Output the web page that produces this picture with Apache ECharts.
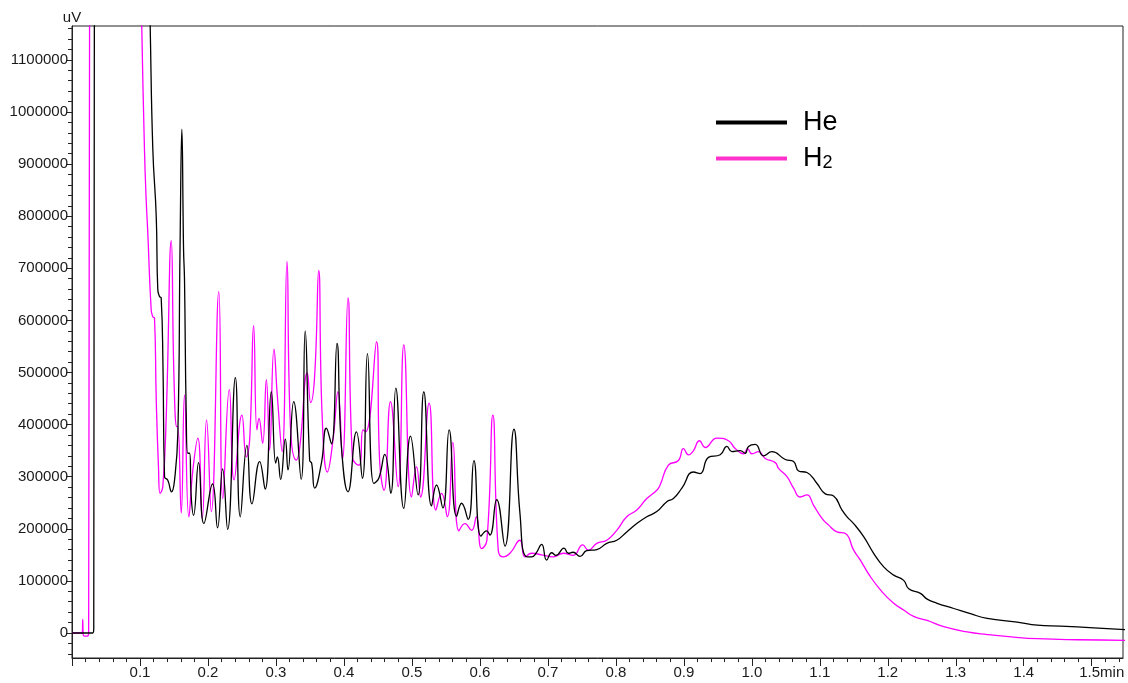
<!DOCTYPE html>
<html lang="en">
<head>
<meta charset="UTF-8">
<title>He / H2 chromatogram</title>
<script src="https://cdn.jsdelivr.net/npm/echarts@6/dist/echarts.min.js"></script>
<style>
  html, body { margin: 0; padding: 0; background: #fff; }
  #main { width: 1128px; height: 683px; }
</style>
</head>
<body>
<div id="main"></div>
<script>
    // axis labels
    var xTickLabels = [0.1, 0.2, 0.3, 0.4, 0.5, 0.6, 0.7, 0.8, 0.9, 1.0, 1.1, 1.2, 1.3, 1.4, 1.5];
    var yTickLabels = [0, 100000, 200000, 300000, 400000, 500000, 600000, 700000, 800000, 900000, 1000000, 1100000];

    // He trace [min, uV] - values above the axis top are clipped
    var heData = [
        [0, 0], [0.0305, 0], [0.0320, 8000], [0.0335, 2000000], [0.105, 2000000], [0.1105, 1450000],
        [0.1150, 1165000], [0.1189, 928000], [0.1239, 800000], [0.1262, 659000], [0.1287, 646000], [0.1312, 643000],
        [0.1338, 514000], [0.1361, 300000], [0.1409, 293000], [0.1464, 271000], [0.1508, 293000], [0.1557, 384000],
        [0.1589, 736000], [0.1616, 967000], [0.1641, 736000], [0.1655, 678000], [0.1680, 422000], [0.1704, 345000],
        [0.1729, 345000], [0.1754, 261000], [0.1788, 226000], [0.1862, 327000], [0.1940, 210000], [0.2068, 286000],
        [0.2141, 202000], [0.2215, 315000], [0.2289, 199000], [0.2403, 490000], [0.2476, 223000], [0.2573, 360000],
        [0.2647, 248000], [0.2760, 329000], [0.2841, 276000], [0.2932, 463000], [0.2996, 326000], [0.3021, 338000],
        [0.3069, 295000], [0.3138, 372000], [0.3177, 313000], [0.3261, 444000], [0.3371, 295000], [0.3430, 580000],
        [0.3496, 331000], [0.3525, 326000], [0.3570, 278000], [0.3669, 326000], [0.3742, 393000], [0.3816, 363000],
        [0.3898, 556000], [0.3963, 358000], [0.4060, 271000], [0.4184, 386000], [0.4272, 297000], [0.4346, 536000],
        [0.4439, 287000], [0.4513, 297000], [0.4601, 343000], [0.4689, 268000], [0.4763, 470000], [0.4881, 239000],
        [0.4979, 378000], [0.5091, 265000], [0.5175, 463000], [0.5289, 244000], [0.5362, 284000], [0.5455, 240000],
        [0.5548, 390000], [0.5657, 224000], [0.5731, 249000], [0.5828, 218000], [0.5912, 331000], [0.6015, 186000],
        [0.6099, 196000], [0.6147, 188000], [0.6247, 256000], [0.6368, 167000], [0.6501, 391000], [0.6589, 230000],
        [0.6677, 147000], [0.6761, 146000], [0.6825, 153000], [0.6909, 170000], [0.6982, 140000], [0.7056, 154000],
        [0.7119, 149000], [0.7237, 163000], [0.7300, 153000], [0.7370, 155000], [0.7473, 147000], [0.7571, 158000],
        [0.7719, 160000], [0.7866, 172000], [0.8013, 178000], [0.8160, 194000], [0.8308, 210000], [0.8455, 223000],
        [0.8602, 233000], [0.8750, 252000], [0.8847, 258000], [0.8971, 278000], [0.9141, 309000], [0.9240, 306000],
        [0.9362, 337000], [0.9535, 342000], [0.9633, 358000], [0.9707, 348000], [0.9829, 350000], [0.9903, 345000],
        [0.9951, 358000], [1.0050, 362000], [1.0172, 340000], [1.0296, 348000], [1.0492, 333000], [1.0614, 329000],
        [1.0688, 311000], [1.0811, 308000], [1.0959, 287000], [1.1081, 267000], [1.1203, 263000], [1.1327, 236000],
        [1.1401, 223000], [1.1498, 210000], [1.1645, 185000], [1.1792, 153000], [1.1940, 127000], [1.2087, 111000],
        [1.2234, 101000], [1.2308, 85000], [1.2480, 76000], [1.2579, 65000], [1.2726, 57000], [1.2971, 47000],
        [1.3216, 37000], [1.3462, 28000], [1.3904, 21000], [1.4199, 15000], [1.4542, 13000], [1.5032, 10000],
        [1.5499, 6500]
    ];

    // H2 trace [min, uV]
    var h2Data = [
        [0, 0], [0.0150, 0], [0.0158, 26000], [0.0164, -3000], [0.0185, -6000], [0.0225, -6000], [0.0245, 0],
        [0.0268, 2000000], [0.094, 2000000], [0.0985, 1450000], [0.1026, 1165000], [0.1066, 928000], [0.1091, 832000],
        [0.1115, 768000], [0.1165, 620000], [0.1189, 607000], [0.1214, 604000], [0.1239, 450000], [0.1272, 319000],
        [0.1297, 268000], [0.1336, 281000], [0.1386, 415000], [0.1460, 753000], [0.1501, 486000], [0.1542, 396000],
        [0.1557, 396000], [0.1607, 230000], [0.1655, 457000], [0.1719, 223000], [0.1778, 313000], [0.1851, 374000],
        [0.1916, 220000], [0.1979, 409000], [0.2049, 233000], [0.2159, 655000], [0.2219, 258000], [0.2314, 467000],
        [0.2384, 294000], [0.2499, 418000], [0.2564, 338000], [0.2613, 370000], [0.2672, 590000], [0.2720, 390000],
        [0.2750, 412000], [0.2804, 364000], [0.2859, 486000], [0.2907, 351000], [0.2971, 545000], [0.3021, 454000],
        [0.3091, 348000], [0.3162, 713000], [0.3212, 399000], [0.3300, 332000], [0.3349, 355000], [0.3462, 499000],
        [0.3511, 442000], [0.3570, 495000], [0.3629, 696000], [0.3680, 415000], [0.3757, 309000], [0.3839, 370000],
        [0.3913, 463000], [0.3978, 334000], [0.4060, 643000], [0.4125, 337000], [0.4222, 322000], [0.4281, 390000],
        [0.4321, 386000], [0.4479, 559000], [0.4527, 326000], [0.4591, 274000], [0.4685, 444000], [0.4797, 281000],
        [0.4881, 553000], [0.4994, 261000], [0.5068, 319000], [0.5127, 261000], [0.5253, 441000], [0.5352, 236000],
        [0.5436, 268000], [0.5521, 223000], [0.5602, 366000], [0.5691, 196000], [0.5779, 210000], [0.5878, 197000],
        [0.5948, 223000], [0.6025, 162000], [0.6103, 178000], [0.6191, 418000], [0.6270, 159000], [0.6343, 146000],
        [0.6442, 153000], [0.6589, 178000], [0.6663, 146000], [0.6761, 153000], [0.6909, 150000], [0.7080, 146000],
        [0.7227, 153000], [0.7374, 149000], [0.7513, 169000], [0.7595, 159000], [0.7719, 172000], [0.7866, 178000],
        [0.8013, 197000], [0.8160, 223000], [0.8308, 236000], [0.8455, 258000], [0.8602, 274000], [0.8651, 284000],
        [0.8773, 322000], [0.8920, 331000], [0.8994, 354000], [0.9068, 342000], [0.9137, 349000], [0.9230, 369000],
        [0.9314, 356000], [0.9486, 374000], [0.9657, 369000], [0.9755, 354000], [0.9878, 344000], [0.9937, 354000],
        [1.0001, 344000], [1.0099, 348000], [1.0197, 335000], [1.0345, 327000], [1.0393, 316000], [1.0517, 300000],
        [1.0614, 278000], [1.0713, 261000], [1.0811, 265000], [1.0909, 245000], [1.1032, 220000], [1.1130, 207000],
        [1.1253, 194000], [1.1376, 191000], [1.1498, 159000], [1.1596, 140000], [1.1744, 108000], [1.1916, 79000],
        [1.2087, 57000], [1.2234, 44000], [1.2381, 32000], [1.2579, 24000], [1.2823, 12000], [1.3168, 2000],
        [1.3462, -3000], [1.3854, -8000], [1.4199, -11000], [1.4788, -13000], [1.5499, -14000]
    ];

    var FONT = '"Liberation Sans", Arial, sans-serif';
    var AXIS_COLOR = '#222';
    var X_MIN = 0, X_MAX = 1.546;
    var Y_MIN = -48000, Y_MAX = 1165000;

    // minor ticks every 0.02 min and every 20000 uV
    var xMinor = [];
    for (var i = 1; i * 0.02 < X_MAX; i++) xMinor.push(Math.round(i * 2) / 100);
    var yMinor = [];
    for (var v = -40000; v <= Y_MAX; v += 20000) yMinor.push(v);

    var chart = echarts.init(document.getElementById('main'));

    var option = {
        animation: false,
        backgroundColor: '#fff',
        grid: {
            left: 72, top: 26, right: 5, bottom: 25,
            show: true, borderColor: AXIS_COLOR, borderWidth: 1, backgroundColor: 'transparent'
        },
        legend: {
            orient: 'vertical',
            left: 711,
            top: 104,
            icon: 'rect',
            itemWidth: 71,
            itemHeight: 4,
            itemGap: 9,
            selectedMode: false,
            data: [
                {name: 'He', itemStyle: {color: '#000'}},
                {name: 'H2', itemStyle: {color: '#ff33cc'}}
            ],
            formatter: function (name) {
                return name === 'H2' ? '{m|H}{s|2}' : '{m|He}';
            },
            textStyle: {
                color: '#000',
                fontFamily: FONT,
                fontSize: 27,
                padding: [0, 0, 0, 11],
                rich: {
                    m: {fontSize: 27, lineHeight: 27, fontFamily: FONT, color: '#000'},
                    s: {fontSize: 18, lineHeight: 18, verticalAlign: 'bottom', fontFamily: FONT, color: '#000'}
                }
            }
        },
        xAxis: [{
            type: 'value', min: X_MIN, max: X_MAX, position: 'bottom',
            axisLine: {show: true, onZero: false, lineStyle: {color: AXIS_COLOR, width: 1}},
            axisTick: {show: true, customValues: [0].concat(xTickLabels), length: 8, lineStyle: {color: AXIS_COLOR}},
            axisLabel: {
                customValues: xTickLabels, margin: 7, fontSize: 15, color: '#1a1a1a', fontFamily: FONT,
                formatter: function (val) {
                    var s = val.toFixed(1);
                    return val > 1.49 ? '{n|' + s + '}{u|min}' : s;
                },
                rich: {
                    n: {fontSize: 15, fontFamily: FONT, color: '#1a1a1a', padding: [0, 0, 0, 20]},
                    u: {fontSize: 15, fontFamily: FONT, color: '#1a1a1a'}
                }
            },
            splitLine: {show: false}
        }, {
            type: 'value', min: X_MIN, max: X_MAX, position: 'bottom',
            axisLine: {show: false, onZero: false},
            axisTick: {show: true, customValues: xMinor, length: 4, lineStyle: {color: AXIS_COLOR}},
            axisLabel: {show: false},
            splitLine: {show: false}
        }],
        yAxis: [{
            type: 'value', min: Y_MIN, max: Y_MAX, position: 'left',
            name: 'uV', nameLocation: 'end', nameGap: 1,
            nameTextStyle: {fontSize: 15, color: '#1a1a1a', fontFamily: FONT},
            axisLine: {show: true, onZero: false, lineStyle: {color: AXIS_COLOR, width: 1}},
            axisTick: {show: true, customValues: yTickLabels, length: 6, lineStyle: {color: AXIS_COLOR}},
            axisLabel: {
                customValues: yTickLabels, margin: 4, fontSize: 15, color: '#1a1a1a', fontFamily: FONT,
                formatter: function (val) { return String(val); }
            },
            splitLine: {show: false}
        }, {
            type: 'value', min: Y_MIN, max: Y_MAX, position: 'left',
            axisLine: {show: false, onZero: false},
            axisTick: {show: true, customValues: yMinor, length: 4, lineStyle: {color: AXIS_COLOR}},
            axisLabel: {show: false},
            splitLine: {show: false}
        }],
        series: [{
            name: 'H2', type: 'line', data: h2Data, xAxisIndex: 0, yAxisIndex: 0,
            symbol: 'none', showSymbol: false, smooth: 0.5, clip: true, z: 2,
            lineStyle: {color: '#ff00ff', width: 1.3},
            itemStyle: {color: '#ff00ff'}
        }, {
            name: 'He', type: 'line', data: heData, xAxisIndex: 0, yAxisIndex: 0,
            symbol: 'none', showSymbol: false, smooth: 0.5, clip: true, z: 3,
            lineStyle: {color: '#000', width: 1.3},
            itemStyle: {color: '#000'}
        }]
    };

    chart.setOption(option);
</script>
</body>
</html>
